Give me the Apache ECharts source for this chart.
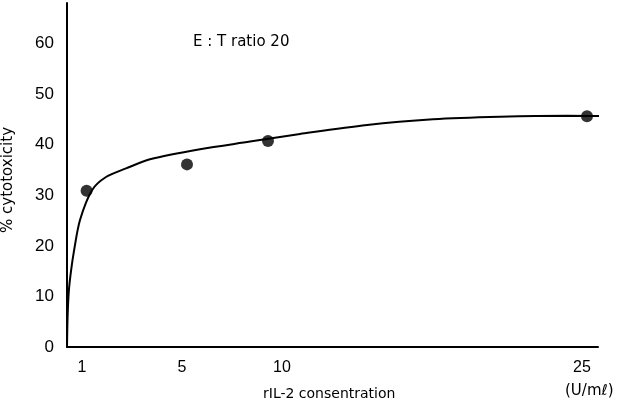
<!DOCTYPE html>
<html>
<head>
<meta charset="utf-8">
<script src="https://cdn.jsdelivr.net/npm/echarts@6/dist/echarts.min.js"></script>
<style>
  html, body { margin: 0; padding: 0; background: #fff; }
  #main { width: 621px; height: 407px; }
</style>
</head>
<body>
<div id="main"></div>
<script>
// measured points (x in axis units, % cytotoxicity)
var pointX = [0.23, 5.25, 9.3, 25.25];
var pointY = [30.9, 36.1, 40.7, 45.6];

// fitted curve
var curveX = [-0.75, -0.72, -0.66, -0.55, -0.4, -0.1, 0.5, 1.2, 2.2, 3.4, 5.9, 8.4, 10.9, 14.25, 17.55, 20.9, 24.25, 26.95];
var curveY = [0, 6.0, 11.0, 15.0, 19.0, 25.1, 31.0, 33.6, 35.3, 37.1, 39.1, 40.6, 42.1, 43.9, 45.0, 45.5, 45.7, 45.6];

// tick positions and their labels
var xTickValues = [0, 5, 10, 25];
var xTickLabels = ['1', '5', '10', '25'];
var yTickValues = [0, 10, 20, 30, 40, 50, 60];

var font = 'Liberation Sans, Arial, sans-serif';
var wide = 'DejaVu Sans, sans-serif';

var chart = echarts.init(document.getElementById('main'));

var points = pointX.map(function (x, i) { return [x, pointY[i]]; });
var curve = curveX.map(function (x, i) { return [x, curveY[i]]; });

chart.setOption({
  animation: false,
  backgroundColor: '#fff',
  grid: { left: 67, right: 23, top: 3, bottom: 60, containLabel: false, outerBoundsMode: 'none' },
  xAxis: {
    type: 'value',
    min: -0.75,
    max: 25.8,
    axisLine: { onZero: false, lineStyle: { color: '#000', width: 2 } },
    axisTick: { show: false },
    splitLine: { show: false },
    axisLabel: {
      customValues: xTickValues,
      formatter: function (v) {
        var i = xTickValues.indexOf(v);
        return i >= 0 ? xTickLabels[i] : '';
      },
      color: '#000', fontSize: 16, fontFamily: font, margin: 13
    }
  },
  yAxis: {
    type: 'value',
    min: 0,
    max: 68,
    axisLine: { show: true, onZero: false, lineStyle: { color: '#000', width: 2 } },
    axisTick: { show: false },
    splitLine: { show: false },
    axisLabel: {
      customValues: yTickValues,
      color: '#000', fontSize: 17, fontFamily: font, margin: 13
    }
  },
  graphic: [
    { type: 'text', x: 8, y: 180, rotation: Math.PI / 2, style: { text: '% cytotoxicity', fill: '#000', font: '15px ' + wide, align: 'center', verticalAlign: 'middle' } },
    { type: 'text', left: 193, top: 35, style: { text: 'E : T ratio 20', fill: '#000', font: '15px ' + wide } },
    { type: 'text', left: 263, top: 387, style: { text: 'rIL-2 consentration', fill: '#000', font: '14px ' + wide } },
    { type: 'text', left: 565, top: 384, style: { text: '(U/m\u2113)', fill: '#000', font: '15px ' + wide } }
  ],
  series: [
    {
      type: 'line',
      data: curve,
      smooth: 0.3,
      showSymbol: false,
      clip: false,
      lineStyle: { color: '#000', width: 2 }
    },
    {
      type: 'scatter',
      data: points,
      symbolSize: 12,
      itemStyle: { color: '#000' }
    }
  ]
});
</script>
</body>
</html>
